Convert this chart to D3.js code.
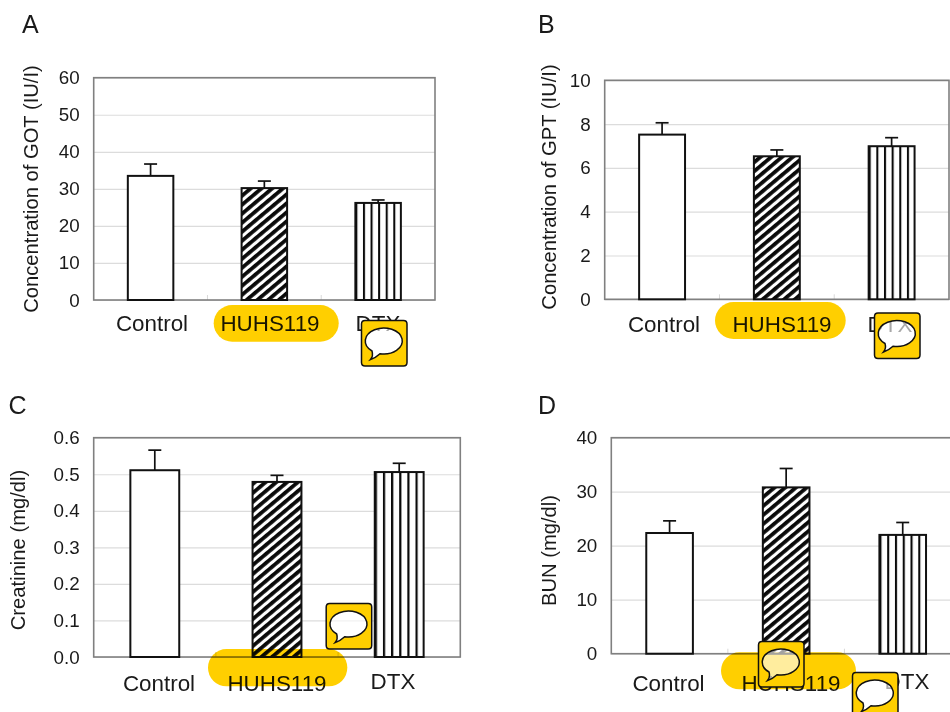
<!DOCTYPE html>
<html>
<head>
<meta charset="utf-8">
<script src="https://cdn.jsdelivr.net/npm/d3@7"></script>
<style>
	html, body { margin: 0; padding: 0; background: #fff; overflow: hidden; }
	text { font-family: "Liberation Sans", Arial, sans-serif; fill: #1a1a1a; }
</style>
</head>
<body>
<div id="chart"></div>
<script>
var categories = ["Control", "HUHS119", "DTX"];

var gotMean = [33.5, 30.2, 26.2];
var gotTop = [36.7, 32.1, 27.0];
var gptMean = [7.52, 6.53, 6.99];
var gptTop = [8.06, 6.82, 7.38];
var creatinineMean = [0.511, 0.479, 0.506];
var creatinineTop = [0.566, 0.497, 0.530];
var bunMean = [22.35, 30.8, 22.0];
var bunTop = [24.6, 34.3, 24.3];

var gotTicks = [0, 10, 20, 30, 40, 50, 60];
var gptTicks = [0, 2, 4, 6, 8, 10];
var creatinineTicks = [0, 0.1, 0.2, 0.3, 0.4, 0.5, 0.6];
var bunTicks = [0, 10, 20, 30, 40];

var panels = [
	{ letter: "A", lx: 22, ly: 33, title: "Concentration of GOT (IU/I)", tx: 37.5, ty: 189,
		left: 93.7, right: 435, top: 77.7, bottom: 300, mean: gotMean, errTop: gotTop, ticks: gotTicks, fmt: "d",
		labelX: [152, 270, 378], labelY: [331, 331, 331] },
	{ letter: "B", lx: 538, ly: 33, title: "Concentration of GPT (IU/I)", tx: 555.5, ty: 187,
		left: 604.7, right: 949, top: 80.3, bottom: 299.3, mean: gptMean, errTop: gptTop, ticks: gptTicks, fmt: "d",
		labelX: [664, 782, 890], labelY: [332, 332, 332] },
	{ letter: "C", lx: 8.5, ly: 414, title: "Creatinine (mg/dl)", tx: 25, ty: 550,
		left: 93.7, right: 460.3, top: 437.7, bottom: 657, mean: creatinineMean, errTop: creatinineTop, ticks: creatinineTicks, fmt: ".1f",
		labelX: [159, 277, 393], labelY: [691, 691, 689] },
	{ letter: "D", lx: 538, ly: 414, title: "BUN (mg/dl)", tx: 555.5, ty: 550.5,
		left: 611.3, right: 961, top: 437.7, bottom: 653.7, mean: bunMean, errTop: bunTop, ticks: bunTicks, fmt: "d",
		labelX: [668.5, 791, 907], labelY: [691, 691, 689] }
];

// yellow highlights sitting on top of the figure
var pills = [
	{ x0: 213.7, x1: 338.7, y0: 305, y1: 341.7 },
	{ x0: 715, x1: 845.7, y0: 302, y1: 339 },
	{ x0: 208, x1: 347.3, y0: 649, y1: 686.3 },
	{ x0: 721, x1: 856, y0: 652.3, y1: 689.3 }
];
var icons = [
	{ x: 361, y: 320 },
	{ x: 874, y: 312.5 },
	{ x: 325.7, y: 603 },
	{ x: 758, y: 641 },
	{ x: 852, y: 672 }
];

var svg = d3.select("#chart")
	.append("svg")
	.attr("width", 950)
	.attr("height", 712)
	.style("display", "block");

var defs = svg.append("defs");

var diag = defs.append("pattern")
	.attr("id", "diag")
	.attr("patternUnits", "userSpaceOnUse")
	.attr("width", 6.9)
	.attr("height", 6.9)
	.attr("patternTransform", "rotate(-40)");
diag.append("rect").attr("width", 6.9).attr("height", 6.9).attr("fill", "#fff");
diag.append("rect").attr("width", 6.9).attr("height", 3.8).attr("fill", "#0a0a0a");

var vert = defs.append("pattern")
	.attr("id", "vert")
	.attr("patternUnits", "objectBoundingBox")
	.attr("patternContentUnits", "objectBoundingBox")
	.attr("width", 1 / 6)
	.attr("height", 1);
vert.append("rect").attr("width", 1 / 6).attr("height", 1).attr("fill", "#fff");
vert.append("rect").attr("width", 0.045).attr("height", 1).attr("fill", "#0a0a0a");

var fills = ["#fff", "url(#diag)", "url(#vert)"];

panels.forEach(function(p) {
	var g = svg.append("g");

	var xPositionScale = d3.scaleBand()
		.domain(categories)
		.range([p.left, p.right])
		.paddingInner(0.6)
		.paddingOuter(0.3);

	var yPositionScale = d3.scaleLinear()
		.domain([0, d3.max(p.ticks)])
		.range([p.bottom, p.top]);

	g.append("text")
		.attr("x", p.lx)
		.attr("y", p.ly)
		.attr("font-size", 25)
		.text(p.letter);

	g.append("text")
		.attr("transform", "translate(" + p.tx + "," + p.ty + ") rotate(-90)")
		.attr("text-anchor", "middle")
		.attr("font-size", 20.2)
		.text(p.title);

	// gridlines
	var grid = g.append("g")
		.attr("transform", "translate(" + p.left + ",0)")
		.call(d3.axisLeft(yPositionScale).tickValues(p.ticks).tickSize(-(p.right - p.left)).tickFormat(""));
	grid.select(".domain").remove();
	grid.selectAll("line").attr("stroke", "#dcdcdc").attr("stroke-width", 1.2);

	// little marks between the categories
	g.selectAll(".sep")
		.data(categories.slice(1))
		.enter().append("line")
		.attr("class", "sep")
		.attr("x1", function(d) { return xPositionScale(d) - xPositionScale.step() * 0.3; })
		.attr("x2", function(d) { return xPositionScale(d) - xPositionScale.step() * 0.3; })
		.attr("y1", p.bottom - 5)
		.attr("y2", p.bottom)
		.attr("stroke", "#d8d8d8");

	g.append("rect")
		.attr("x", p.left)
		.attr("y", p.top)
		.attr("width", p.right - p.left)
		.attr("height", p.bottom - p.top)
		.attr("fill", "none")
		.attr("stroke", "#808080")
		.attr("stroke-width", 1.6);

	var yAxis = g.append("g")
		.attr("transform", "translate(" + p.left + ",0)")
		.call(d3.axisLeft(yPositionScale).tickValues(p.ticks).tickSize(0).tickPadding(14).tickFormat(d3.format(p.fmt)));
	yAxis.select(".domain").remove();
	yAxis.selectAll("text").attr("font-size", 18.8);
	yAxis.attr("font-family", null);

	var xAxis = g.append("g")
		.attr("transform", "translate(0," + p.bottom + ")")
		.call(d3.axisBottom(xPositionScale).tickSize(0));
	xAxis.select(".domain").remove();
	xAxis.attr("font-family", null);
	xAxis.selectAll(".tick").attr("transform", null);
	xAxis.selectAll("text")
		.attr("font-size", 22.4)
		.attr("text-anchor", "middle")
		.attr("dy", 0)
		.attr("x", function(d, i) { return p.labelX[i]; })
		.attr("y", function(d, i) { return p.labelY[i] - p.bottom; });

	// error bars go under the bar outline
	var errs = g.selectAll(".err")
		.data(categories)
		.enter().append("g")
		.attr("class", "err")
		.attr("stroke", "#111")
		.attr("stroke-width", 1.7);
	errs.append("line")
		.attr("x1", function(d) { return xPositionScale(d) + xPositionScale.bandwidth() / 2; })
		.attr("x2", function(d) { return xPositionScale(d) + xPositionScale.bandwidth() / 2; })
		.attr("y1", function(d, i) { return yPositionScale(p.mean[i]); })
		.attr("y2", function(d, i) { return yPositionScale(p.errTop[i]); });
	errs.append("line")
		.attr("x1", function(d) { return xPositionScale(d) + xPositionScale.bandwidth() / 2 - 6.5; })
		.attr("x2", function(d) { return xPositionScale(d) + xPositionScale.bandwidth() / 2 + 6.5; })
		.attr("y1", function(d, i) { return yPositionScale(p.errTop[i]); })
		.attr("y2", function(d, i) { return yPositionScale(p.errTop[i]); });

	g.selectAll(".bar")
		.data(categories)
		.enter().append("rect")
		.attr("class", "bar")
		.attr("x", function(d) { return xPositionScale(d); })
		.attr("y", function(d, i) { return yPositionScale(p.mean[i]); })
		.attr("width", xPositionScale.bandwidth())
		.attr("height", function(d, i) { return p.bottom - yPositionScale(p.mean[i]); })
		.attr("fill", function(d, i) { return fills[i]; })
		.attr("stroke", "#111")
		.attr("stroke-width", 2);
});

svg.selectAll(".pill")
	.data(pills)
	.enter().append("rect")
	.attr("class", "pill")
	.attr("x", function(d) { return d.x0; })
	.attr("y", function(d) { return d.y0; })
	.attr("width", function(d) { return d.x1 - d.x0; })
	.attr("height", function(d) { return d.y1 - d.y0; })
	.attr("rx", 18.5)
	.attr("fill", "#ffcf00")
	.style("mix-blend-mode", "multiply");

// bubble is cut out of the yellow square so what is underneath shows through
var bubble = "M11 31A18.5 13 0 1 1 19 33.7Q15 37.5 9.5 39.5Q12.5 36 11 31Z";
var square = "M4 0.5H42.5Q46 0.5 46 4V42.5Q46 46 42.5 46H4Q0.5 46 0.5 42.5V4Q0.5 0.5 4 0.5Z";

var icon = svg.selectAll(".icon")
	.data(icons)
	.enter().append("g")
	.attr("class", "icon")
	.attr("transform", function(d) { return "translate(" + d.x + "," + d.y + ")"; });
icon.append("path")
	.attr("d", square + bubble)
	.attr("fill", "#ffcf00")
	.attr("fill-rule", "evenodd");
icon.append("path")
	.attr("d", bubble)
	.attr("fill", "#fff")
	.attr("fill-opacity", 0.62)
	.attr("stroke", "#111")
	.attr("stroke-width", 1.5);
icon.append("path")
	.attr("d", square)
	.attr("fill", "none")
	.attr("stroke", "#111")
	.attr("stroke-width", 1.5);
</script>
</body>
</html>
